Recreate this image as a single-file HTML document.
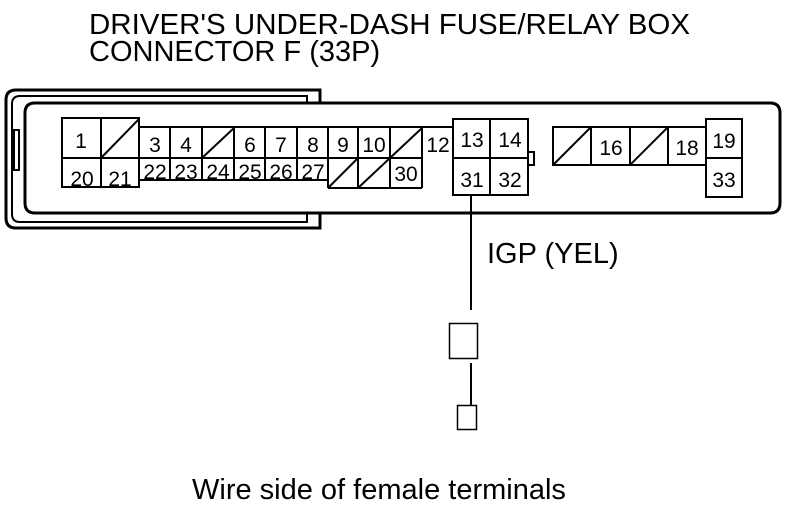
<!DOCTYPE html>
<html><head><style>
body{margin:0;background:#fff;width:800px;height:506px;overflow:hidden}
svg text{font-family:"Liberation Sans",Arial,sans-serif;fill:#000}
</style></head><body>
<svg width="800" height="506" xmlns="http://www.w3.org/2000/svg">
<g font-size="29">
<text x="89" y="34" textLength="601" lengthAdjust="spacingAndGlyphs">DRIVER'S UNDER-DASH FUSE/RELAY BOX</text>
<text x="89" y="61">CONNECTOR F (33P)</text>
</g>
<g fill="none" stroke="#000" stroke-width="3">
<path d="M320,103 V90 H16 Q6,90 6,100 V218 Q6,228 16,228 H320 V213"/>
<path d="M307,102 V96 H20 Q12,96 12,104 V214 Q12,222 20,222 H307 V213" stroke-width="2"/>
<path d="M35,103 H770 Q780,103 780,113 V203 Q780,213 770,213 H35 Q25,213 25,203 V113 Q25,103 35,103 Z" fill="#fff"/>
</g>
<rect x="14" y="130" width="5" height="40" fill="#fff" stroke="#000" stroke-width="2"/>
<g fill="none" stroke="#000" stroke-width="2">
<rect x="62" y="118" width="77" height="69"/>
<line x1="101" y1="118" x2="101" y2="187"/>
<line x1="62" y1="158" x2="139" y2="158"/>
<line x1="101" y1="158" x2="139" y2="119"/>
<path d="M139,127 H453 M139,158 H422 M139,180 H328"/>
<path d="M170,127 V180 M202,127 V180 M234,127 V180 M265,127 V180 M297,127 V180 M328,127 V188 M358,127 V188 M390,127 V188 M422,127 V188"/>
<path d="M328,188 H422"/>
<line x1="202" y1="158" x2="234" y2="128"/>
<line x1="390" y1="158" x2="422" y2="128"/>
<line x1="328" y1="188" x2="358" y2="158"/>
<line x1="358" y1="188" x2="390" y2="158"/>
<rect x="453" y="119" width="75" height="76"/>
<line x1="490" y1="119" x2="490" y2="195"/>
<line x1="453" y1="158" x2="528" y2="158"/>
<rect x="528" y="152" width="6" height="13"/>
<rect x="553" y="127" width="153" height="38"/>
<path d="M591,127 V165 M630,127 V165 M668,127 V165"/>
<line x1="553" y1="165" x2="591" y2="127"/>
<line x1="630" y1="165" x2="668" y2="127"/>
<rect x="706" y="119" width="36" height="78"/>
<line x1="706" y1="158" x2="742" y2="158"/>
<line x1="471" y1="195" x2="471" y2="310"/>
<rect x="449.5" y="323.5" width="28" height="35" stroke-width="1.5"/>
<line x1="471" y1="363" x2="471" y2="405"/>
<rect x="457.5" y="405.5" width="19" height="24" stroke-width="1.5"/>
</g>
<g font-size="21" text-anchor="middle">
<text x="81" y="148">1</text>
<text x="82" y="186">20</text><text x="120" y="186">21</text>
<text x="155" y="152">3</text><text x="186" y="152">4</text>
<text x="250" y="152">6</text><text x="281" y="152">7</text><text x="313" y="152">8</text>
<text x="343" y="152">9</text><text x="374" y="152">10</text><text x="438" y="152">12</text>
<text x="155" y="179">22</text><text x="186" y="179">23</text><text x="218" y="179">24</text>
<text x="250" y="179">25</text><text x="281" y="179">26</text><text x="313" y="179">27</text>
<text x="406" y="181">30</text>
<text x="472" y="147">13</text><text x="510" y="147">14</text>
<text x="472" y="187">31</text><text x="510" y="187">32</text>
<text x="611" y="155">16</text><text x="687" y="155">18</text>
<text x="724" y="148">19</text><text x="724" y="187">33</text>
</g>
<text x="487" y="263" font-size="29">IGP (YEL)</text>
<text x="192" y="499" font-size="29">Wire side of female terminals</text>
</svg>
</body></html>
